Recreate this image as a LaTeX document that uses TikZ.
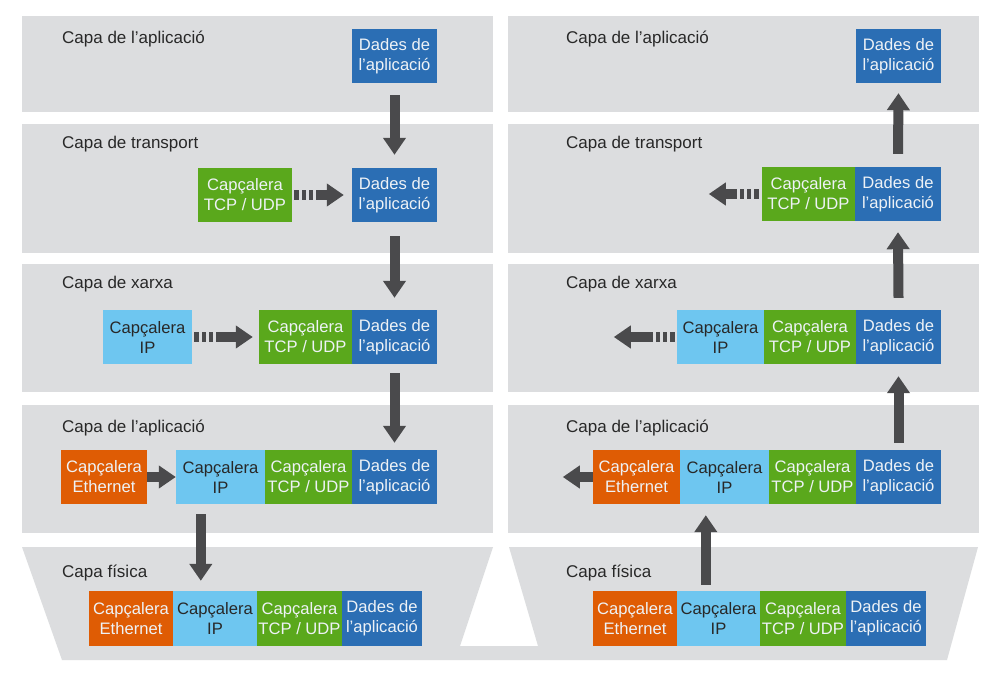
\documentclass[tikz,border=0pt]{standalone}
\usepackage{fontspec}
\setmainfont{Liberation Sans}
\usetikzlibrary{arrows.meta,calc}
\definecolor{band}{RGB}{220,221,223}
\definecolor{cblue}{RGB}{43,110,180}
\definecolor{cgreen}{RGB}{90,168,28}
\definecolor{clight}{RGB}{110,198,240}
\definecolor{corange}{RGB}{223,92,4}
\definecolor{arrowgray}{RGB}{74,74,76}
\definecolor{labtext}{RGB}{40,40,40}
\definecolor{boxtext}{RGB}{238,242,246}
\begin{document}
\begin{tikzpicture}[x=1pt,y=-1pt,
  box/.style={minimum height=54pt, inner sep=0pt, align=center, font=\fontsize{16.6}{20}\selectfont, text=boxtext},
  bl/.style={box, fill=cblue},
  gr/.style={box, fill=cgreen},
  ip/.style={box, fill=clight, text=labtext},
  eth/.style={box, fill=corange},
  lab/.style={anchor=base west, inner sep=0pt, font=\fontsize{17}{20}\selectfont, text=labtext},
  blockarrow/.style={draw=arrowgray, line width=10pt, -{Triangle[width=22pt,length=17pt]}},
  dasharrow/.style={blockarrow, dash pattern=on 5pt off 3pt on 4pt off 3pt on 4pt off 3pt on 200pt}
]
\useasboundingbox (0,0) rectangle (1004,680);
\fill[white] (0,0) rectangle (1004,680);
% bands
\fill[band] (22,16) rectangle (493,112);
\fill[band] (508,16) rectangle (979,112);
\fill[band] (22,124) rectangle (493,253);
\fill[band] (508,124) rectangle (979,253);
\fill[band] (22,264) rectangle (493,392);
\fill[band] (508,264) rectangle (979,392);
\fill[band] (22,405) rectangle (493,533);
\fill[band] (508,405) rectangle (979,533);
\fill[band] (22,547) -- (493,547) -- (460,646) -- (538,646) -- (509,547) -- (978,547) -- (947,660) -- (62,660) -- cycle;
% labels
\foreach \xx/\side in {62/L,566/R}{
  \node[lab] (\side lab1) at (\xx,43) {Capa de l’aplicació};
  \node[lab] (\side lab2) at (\xx,148) {Capa de transport};
  \node[lab] (\side lab3) at (\xx,288) {Capa de xarxa};
  \node[lab] (\side lab4) at (\xx,432) {Capa de l’aplicació};
  \node[lab] (\side lab5) at (\xx,577) {Capa física};
}
% left column
\node[bl, minimum width=85pt] (L1d) at (394.5,56) {Dades de\\l’aplicació};
\node[gr, minimum width=94pt] (L2t) at (245,195) {Capçalera\\TCP / UDP};
\node[bl, minimum width=85pt] (L2d) at (394.5,195) {Dades de\\l’aplicació};
\node[ip, minimum width=89pt] (L3i) at (147.5,337) {Capçalera\\IP};
\node[gr, minimum width=93pt] (L3t) at (305.5,337) {Capçalera\\TCP / UDP};
\node[bl, minimum width=85pt] (L3d) at (394.5,337) {Dades de\\l’aplicació};
\node[eth, minimum width=86pt] (L4e) at (104,477) {Capçalera\\Ethernet};
\node[ip, minimum width=89pt] (L4i) at (220.5,477) {Capçalera\\IP};
\node[gr, minimum width=87pt] (L4t) at (308.5,477) {Capçalera\\TCP / UDP};
\node[bl, minimum width=85pt] (L4d) at (394.5,477) {Dades de\\l’aplicació};
\node[eth, minimum width=84pt, minimum height=55pt] (L5e) at (131,618.5) {Capçalera\\Ethernet};
\node[ip, minimum width=84pt, minimum height=55pt] (L5i) at (215,618.5) {Capçalera\\IP};
\node[gr, minimum width=85pt, minimum height=55pt] (L5t) at (299.5,618.5) {Capçalera\\TCP / UDP};
\node[bl, minimum width=80pt, minimum height=55pt] (L5d) at (382,618.5) {Dades de\\l’aplicació};
% right column
\node[bl, minimum width=85pt] (R1d) at (898.5,56) {Dades de\\l’aplicació};
\node[gr, minimum width=93pt] (R2t) at (808.5,194) {Capçalera\\TCP / UDP};
\node[bl, minimum width=86pt] (R2d) at (898,194) {Dades de\\l’aplicació};
\node[ip, minimum width=87pt] (R3i) at (720.5,337) {Capçalera\\IP};
\node[gr, minimum width=92pt] (R3t) at (810,337) {Capçalera\\TCP / UDP};
\node[bl, minimum width=85pt] (R3d) at (898.5,337) {Dades de\\l’aplicació};
\node[eth, minimum width=87pt] (R4e) at (636.5,477) {Capçalera\\Ethernet};
\node[ip, minimum width=89pt] (R4i) at (724.5,477) {Capçalera\\IP};
\node[gr, minimum width=87pt] (R4t) at (812.5,477) {Capçalera\\TCP / UDP};
\node[bl, minimum width=85pt] (R4d) at (898.5,477) {Dades de\\l’aplicació};
\node[eth, minimum width=84pt, minimum height=55pt] (R5e) at (635,618.5) {Capçalera\\Ethernet};
\node[ip, minimum width=83pt, minimum height=55pt] (R5i) at (718.5,618.5) {Capçalera\\IP};
\node[gr, minimum width=86pt, minimum height=55pt] (R5t) at (803,618.5) {Capçalera\\TCP / UDP};
\node[bl, minimum width=80pt, minimum height=55pt] (R5d) at (886,618.5) {Dades de\\l’aplicació};
% left arrows
\draw[blockarrow] ($(L1d.south)+(0,12)$) -- ($(L2d.north)+(0,-13)$);
\draw[blockarrow] ($(L2d.south)+(0,14)$) -- ($(L3d.north)+(0,-12)$);
\draw[blockarrow] ($(L3d.south)+(0,9)$) -- ($(L4d.north)+(0,-7)$);
\draw[blockarrow] ($(L4i.south west)+(25,10)$) -- ($(L5i.north west)+(28,-10)$);
\draw[dasharrow] ($(L2t.east)+(2,0)$) -- ($(L2d.west)+(-8,0)$);
\draw[dasharrow] ($(L3i.east)+(2,0)$) -- ($(L3t.west)+(-6,0)$);
\draw[blockarrow] (L4e.east) -- (L4i.west);
% right arrows
\draw[blockarrow] ($(R2d.north)+(0,-13)$) -- ($(R1d.south)+(0,10)$);
\draw[blockarrow] ($(R3d.north)+(0,-12)$) -- ($(R2d.south)+(0,11)$);
\draw[blockarrow] ($(R4d.north)+(0,-7)$) -- ($(R3d.south)+(0,12)$);
\draw[blockarrow] ($(R5i.north west)+(29,-6)$) -- ($(R4i.south west)+(26,11)$);
\draw[dasharrow] ($(R2t.west)+(-3,0)$) -- ($(R2t.west)+(-53,0)$);
\draw[dasharrow] ($(R3i.west)+(-2,0)$) -- ($(R3i.west)+(-63,0)$);
\coordinate (R4tip) at ($(R4e.west)+(-30,0)$);
\draw[blockarrow] (R4e.west) -- (R4tip);
\end{tikzpicture}
\end{document}
